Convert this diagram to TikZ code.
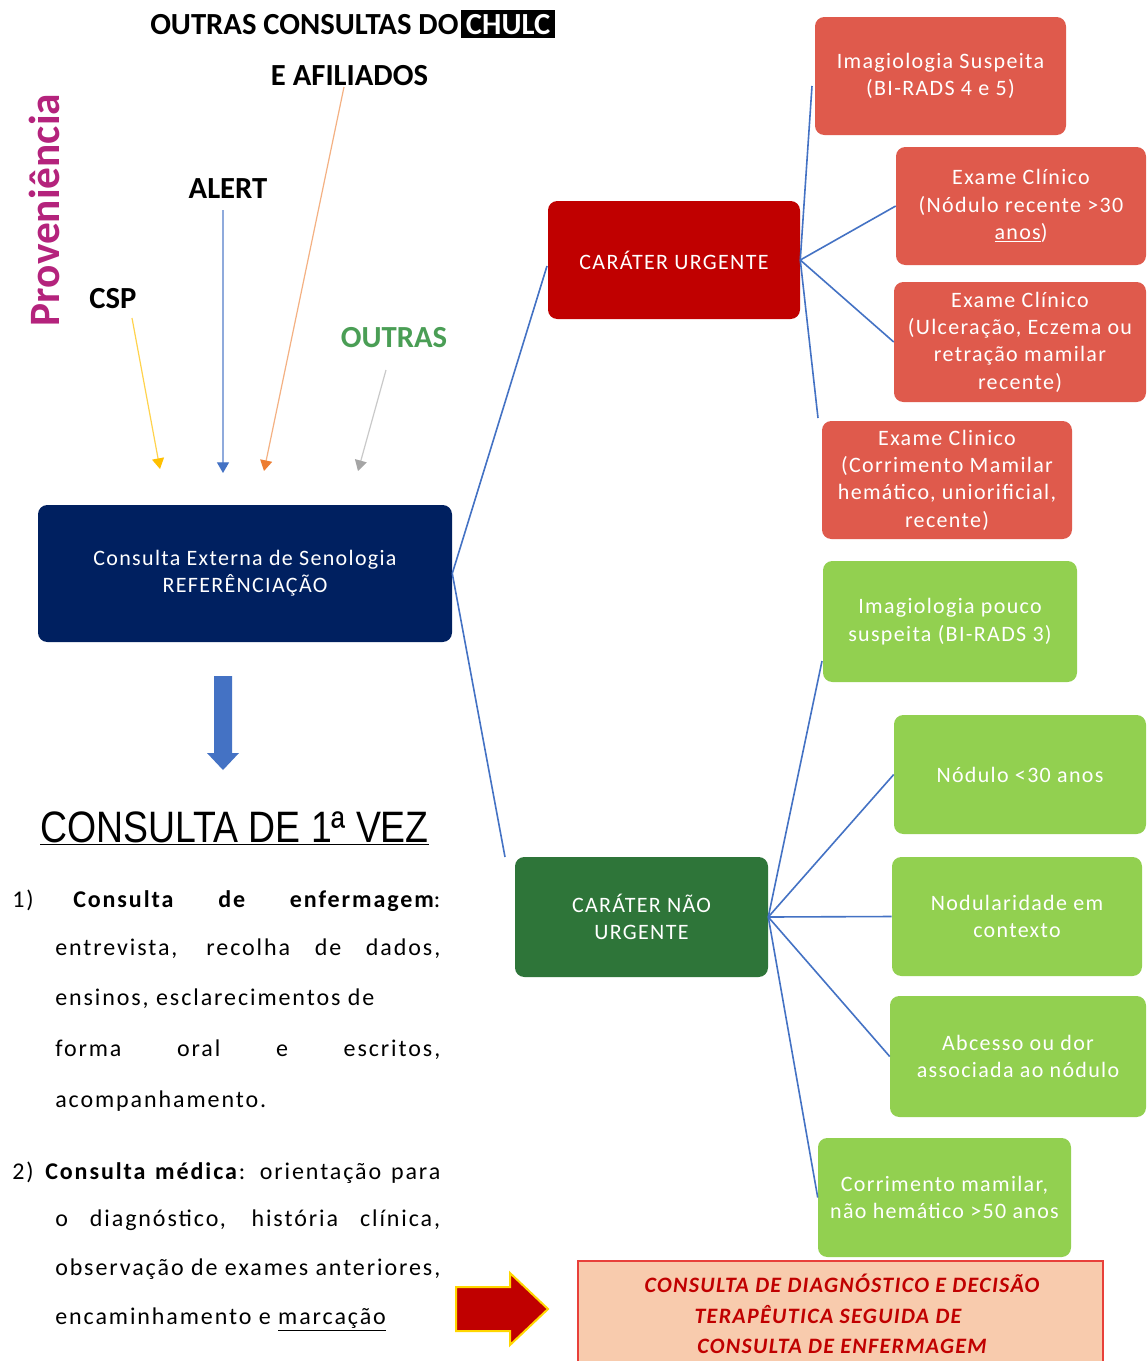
\documentclass[tikz,border=0pt]{standalone}
\usepackage{fontspec}
\setmainfont{Carlito}
\newfontfamily\boxfont{Carlito}[LetterSpace=6]
\newfontfamily\listfont{Carlito}[LetterSpace=8]
\newfontfamily\headfont{Carlito}
\newfontfamily\narrowfont{Liberation Sans}[FakeStretch=0.85]
\usetikzlibrary{arrows.meta}
\definecolor{navy}{HTML}{002060}
\definecolor{urgred}{HTML}{C00000}
\definecolor{redlight}{HTML}{DF5A4C}
\definecolor{greenlight}{HTML}{92D050}
\definecolor{darkgreen}{HTML}{2E7539}
\definecolor{connblue}{HTML}{4472C4}
\definecolor{magentatxt}{HTML}{B4237C}
\definecolor{outrasgreen}{HTML}{4A9E55}
\definecolor{peach}{HTML}{F8CBAD}
\definecolor{peachborder}{HTML}{E8403A}
\definecolor{arrowyellow}{HTML}{FFC000}
\definecolor{arrowyellowline}{HTML}{FFD34D}
\definecolor{arrowblue}{HTML}{4472C4}
\definecolor{arrowblueline}{HTML}{8FAADC}
\definecolor{arroworange}{HTML}{ED7D31}
\definecolor{arroworangeline}{HTML}{F4B183}
\definecolor{arrowgray}{HTML}{A5A5A5}
\definecolor{arrowgrayline}{HTML}{C9C9C9}
\definecolor{glow}{HTML}{FFD700}
\begin{document}
\begin{tikzpicture}[x=0.75pt,y=-0.75pt,
  box/.style={rounded corners=7pt, inner sep=0pt, align=center, text=white,
    font=\boxfont\fontsize{16.5}{20.5}\selectfont},
  redbox/.style={box, fill=redlight},
  greenbox/.style={box, fill=greenlight},
  conn/.style={draw=connblue, line width=1.2pt},
  lbl/.style={inner sep=0pt, font=\headfont\bfseries\fontsize{23}{25}\selectfont},
  listtxt/.style={anchor=base west, inner sep=0pt, font=\listfont\fontsize{18}{20}\selectfont},
  srcarrow/.style={line width=0.9pt, -{Triangle[width=9pt,length=8pt,color=#1]}}
]
\useasboundingbox (0,0) rectangle (1148,1361);
\fill[white] (0,0) rectangle (1148,1361);

% ---- source labels ----
\node[lbl, anchor=base west] (titleA) at (150,34) {OUTRAS CONSULTAS DO};
\node[lbl, anchor=base west, fill=black, text=white, inner xsep=3.5pt, inner ysep=3pt] (chulc) at (461,34) {CHULC};
\node[lbl] (afil) at (349.5,76) {E AFILIADOS};
\node[lbl] (alert) at (228,189) {ALERT};
\node[lbl] (csp) at (113,299) {CSP};
\node[lbl, text=outrasgreen] (outras) at (394,338) {OUTRAS};
\node[inner sep=0pt, rotate=90, text=magentatxt, font=\headfont\bfseries\fontsize{32.5}{35}\selectfont] (prov) at (44,210) {Proveniência};

\coordinate (ys) at (132,318);
\coordinate (ye) at (160,469);
\coordinate (bs) at (223,210);
\coordinate (be) at (223,473);
\coordinate (os) at (344,87);
\coordinate (oe) at (264,471);
\coordinate (gs) at (386,370);
\coordinate (ge) at (358,471);
\draw[srcarrow=arrowyellow, draw=arrowyellowline] (ys) -- (ye);
\draw[srcarrow=arrowblue, draw=arrowblueline] (bs) -- (be);
\draw[srcarrow=arroworange, draw=arroworangeline] (os) -- (oe);
\draw[srcarrow=arrowgray, draw=arrowgrayline] (gs) -- (ge);

% ---- main boxes ----
\node[box, fill=navy, minimum width=310.5pt, minimum height=102.75pt] (ref) at (245,573.5)
  {Consulta Externa de Senologia\\REFERÊNCIAÇÃO};
\node[box, fill=urgred, minimum width=189pt, minimum height=88.5pt] (urg) at (674,260) {CARÁTER URGENTE};
\node[box, fill=darkgreen, minimum width=189.75pt, minimum height=90pt] (nurg) at (641.5,917) {CARÁTER NÃO\\URGENTE};

% ---- urgent criteria ----
\node[redbox, minimum width=188.25pt, minimum height=88.5pt] (r1) at (940.5,76) {Imagiologia Suspeita\\(BI-RADS 4 e 5)};
\node[redbox, minimum width=187.5pt, minimum height=88.5pt] (r2) at (1021,206) {Exame Clínico\\(Nódulo recente >30\\\underline{anos})};
\node[redbox, minimum width=189pt, minimum height=90pt] (r3) at (1020,342) {Exame Clínico\\(Ulceração, Eczema ou\\retração mamilar\\recente)};
\node[redbox, minimum width=187.5pt, minimum height=88.5pt] (r4) at (947,480) {Exame Clinico\\(Corrimento Mamilar\\hemático, uniorificial,\\recente)};

% ---- non urgent criteria ----
\node[greenbox, minimum width=190.5pt, minimum height=90.75pt] (g1) at (950,621.5) {Imagiologia pouco\\suspeita (BI-RADS 3)};
\node[greenbox, minimum width=189pt, minimum height=89.25pt] (g2) at (1020,774.5) {Nódulo <30 anos};
\node[greenbox, minimum width=187.5pt, minimum height=89.25pt] (g3) at (1017,916.5) {Nodularidade em\\contexto};
\node[greenbox, minimum width=192pt, minimum height=90.75pt] (g4) at (1018,1056.5) {Abcesso ou dor\\associada ao nódulo};
\node[greenbox, minimum width=189.75pt, minimum height=89.25pt] (g5) at (944.5,1197.5) {Corrimento mamilar,\\não hemático >50 anos};

% ---- connectors ----
\coordinate (uin) at (547,266);
\coordinate (nin) at (505,857);
\draw[conn] (ref.east) -- (uin);
\draw[conn] (ref.east) -- (nin);
\coordinate (r1in) at (812,86);
\coordinate (r4in) at (818,418);
\draw[conn] (urg.east) -- (r1in);
\draw[conn] (urg.east) -- (r2.west);
\draw[conn] (urg.east) -- (r3.west);
\draw[conn] (urg.east) -- (r4in);
\coordinate (g1in) at (822,661);
\draw[conn] (nurg.east) -- (g1in);
\draw[conn] (nurg.east) -- (g2.west);
\draw[conn] (nurg.east) -- (g3.west);
\draw[conn] (nurg.east) -- (g4.west);
\draw[conn] (nurg.east) -- (g5.west);

% ---- blue block arrow ----
\fill[connblue] (214,676) -- (232,676) -- (232,753) -- (239,753) -- (223,770) -- (207,753) -- (214,753) -- cycle;

% ---- first consultation ----
\node[anchor=base, inner sep=0pt, font=\narrowfont\fontsize{33}{36}\selectfont] (c1v) at (234.5,842)
  {\underline{CONSULTA DE 1ª VEZ}};

\node[listtxt] (n1) at (12,907) {1)};
\node[listtxt] (l1) at (73,907) {\makebox[275.25pt][s]{\bfseries Consulta de enfermagem\mdseries:}};
\node[listtxt] (l2) at (55,955) {\makebox[288.75pt][s]{entrevista, recolha de dados,}};
\node[listtxt] (l3) at (55,1005) {ensinos, esclarecimentos de};
\node[listtxt] (l4) at (55,1056) {\makebox[288.75pt][s]{forma oral e escritos,}};
\node[listtxt] (l5) at (55,1107) {acompanhamento.};
\node[listtxt] (l6) at (12,1179) {\makebox[321pt][s]{2) \textbf{Consulta médica}: orientação para}};
\node[listtxt] (l7) at (55,1226) {\makebox[288.75pt][s]{o diagnóstico, história clínica,}};
\node[listtxt] (l8) at (55,1275) {\makebox[288.75pt][s]{observação de exames anteriores,}};
\node[listtxt] (l9) at (55,1324) {encaminhamento e \underline{marcação}};

% ---- red block arrow ----
\filldraw[fill=urgred, draw=glow, line width=1.5pt, line join=miter]
  (456,1287) -- (510,1287) -- (510,1273) -- (548,1309) -- (510,1345) -- (510,1331) -- (456,1331) -- cycle;

% ---- diagnosis box ----
\begin{scope}
\clip (0,0) rectangle (1148,1361);
\node[draw=peachborder, fill=peach, line width=1.2pt, inner sep=0pt,
  minimum width=393.75pt, minimum height=96.75pt] (diag) at (840.5,1325.5) {};
\end{scope}
\node[inner sep=0pt, align=center, text=urgred,
  font=\boxfont\bfseries\itshape\fontsize{16.5}{23}\selectfont] (diagtxt) at (842,1314)
  {CONSULTA DE DIAGNÓSTICO E DECISÃO\\TERAPÊUTICA SEGUIDA DE\rule{21pt}{0pt}\\CONSULTA DE ENFERMAGEM};
\end{tikzpicture}
\end{document}
